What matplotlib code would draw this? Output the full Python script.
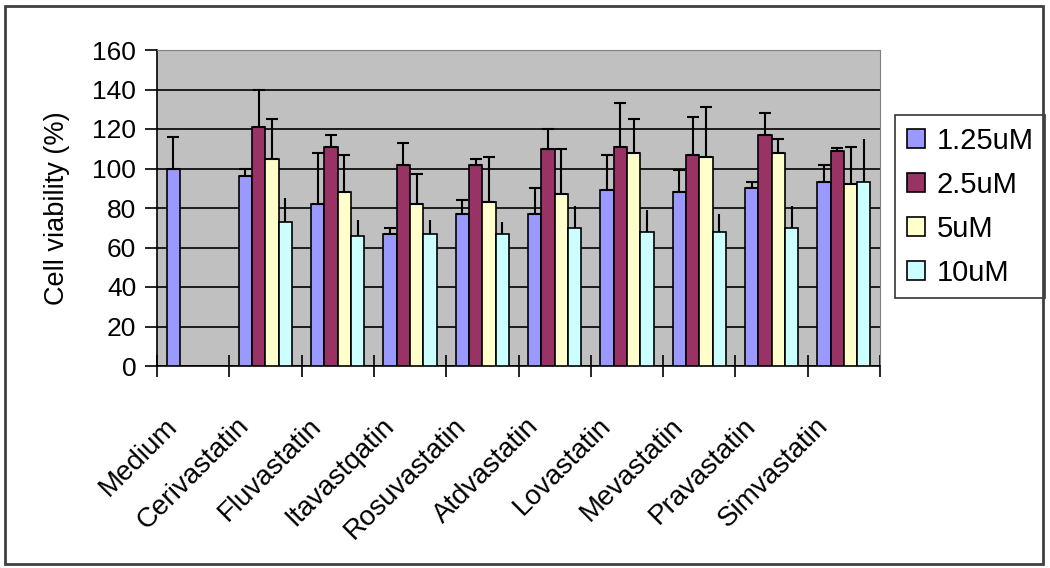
import numpy as np
import matplotlib
matplotlib.use('Agg')
import matplotlib.pyplot as plt
from matplotlib.patches import Rectangle
from matplotlib.transforms import ScaledTranslation, blended_transform_factory

plt.rcParams['font.family'] = ['Liberation Sans', 'DejaVu Sans']

categories = ['Medium', 'Cerivastatin', 'Fluvastatin', 'Itavastqatin', 'Rosuvastatin',
              'Atdvastatin', 'Lovastatin', 'Mevastatin', 'Pravastatin', 'Simvastatin']
series = ['1.25uM', '2.5uM', '5uM', '10uM']
colors = ['#9999FF', '#993366', '#FFFFCC', '#CCFFFF']

# mean values (nan = no bar)
v_125 = [100, 96, 82, 67, 77, 77, 89, 88, 90, 93]
v_25 = [np.nan, 121, 111, 102, 102, 110, 111, 107, 117, 109]
v_5 = [np.nan, 105, 88, 82, 83, 87, 108, 106, 108, 92]
v_10 = [np.nan, 73, 66, 67, 67, 70, 68, 68, 70, 93]

# upper error (SD)
e_125 = [16, 4, 26, 3, 7, 13, 18, 11, 3, 9]
e_25 = [np.nan, 19, 6, 11, 3, 10, 22, 19, 11, 1.5]
e_5 = [np.nan, 20, 19, 15, 23, 23, 17, 25, 7, 19]
e_10 = [np.nan, 12, 8, 7, 6, 11, 11, 9, 11, 22]

values = [v_125, v_25, v_5, v_10]
errors = [e_125, e_25, e_5, e_10]

fig = plt.figure(figsize=(10.5, 5.68), dpi=100)
ax = fig.add_axes([157 / 1050, 1 - 366 / 568, (880 - 157) / 1050, (366 - 50) / 568])

n = len(categories)
x = np.arange(n)
width = 0.184
for i, (vals, errs, c, lab) in enumerate(zip(values, errors, colors, series)):
    pos = x + (i - 1.5) * width
    ax.bar(pos, vals, width, color=c, edgecolor='black', linewidth=1.2, label=lab, zorder=3)
    ax.errorbar(pos, vals, yerr=[np.zeros(n), errs], fmt='none', ecolor='black',
                elinewidth=1.5, capsize=0 if i == 3 else 4, capthick=1.5, zorder=4)

ax.set_facecolor('#C0C0C0')
ax.set_xlim(-0.5, n - 0.5)
ax.set_ylim(0, 160)
ax.set_yticks(np.arange(0, 161, 20))
ax.yaxis.grid(True, color='black', linewidth=1.2, zorder=0)
ax.set_axisbelow(True)
ax.tick_params(axis='y', labelsize=19, length=9, width=1.2, direction='out', pad=6)

ax.set_xticks(np.arange(-0.5, n, 1.0))
ax.set_xticklabels([])
ax.tick_params(axis='x', length=16, width=1.2, direction='inout')

for s in ['top', 'right']:
    ax.spines[s].set_color('#808080')
for s in ['left', 'bottom']:
    ax.spines[s].set_linewidth(1.2)

# rotated category labels
trans = blended_transform_factory(ax.transData, ax.transAxes)
off = ScaledTranslation(-0.20, -0.56, fig.dpi_scale_trans)
for xi, name in zip(x, categories):
    ax.text(xi, 0, name, transform=trans + off, rotation=45, rotation_mode='anchor',
            ha='right', va='center', fontsize=20)

ax.set_ylabel('Cell viability (%)', fontsize=19.5, labelpad=16)

leg = ax.legend(loc='upper left', bbox_to_anchor=(895 / 1050, 1 - 115 / 568),
                bbox_transform=fig.transFigure, fontsize=21, frameon=True, fancybox=False,
                edgecolor='black', handlelength=0.62, handleheight=0.62, handletextpad=0.4,
                labelspacing=0.55, borderpad=0.4, borderaxespad=0)
leg.get_frame().set_linewidth(1.2)

fig.patches.append(Rectangle((5 / 1050, 4 / 568), 1038 / 1050, 558 / 568, transform=fig.transFigure,
                             fill=False, edgecolor='#404040', linewidth=2))

fig.savefig('out.png', dpi=100)
